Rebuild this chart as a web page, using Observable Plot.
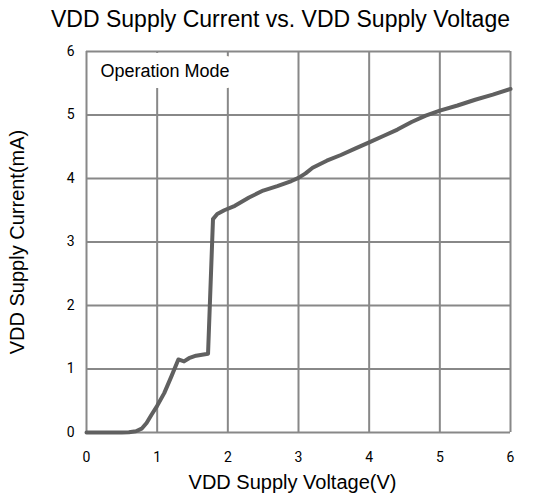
<!DOCTYPE html>
<html>
<head>
<meta charset="utf-8">
<script src="https://cdn.jsdelivr.net/npm/d3@7"></script>
<script src="https://cdn.jsdelivr.net/npm/@observablehq/plot@0.6"></script>
<style>
  body { margin: 0; background: white; overflow: hidden; }
</style>
</head>
<body>
<div id="chart"></div>
<script>
const title = "VDD Supply Current vs. VDD Supply Voltage";
const xLabel = "VDD Supply Voltage(V)";
const yLabel = "VDD Supply Current(mA)";
const annotation = "Operation Mode";
const tickValues = [0, 1, 2, 3, 4, 5, 6];

const voltage = [0, 0.5, 0.6, 0.7, 0.78, 0.85, 0.92, 1.0, 1.1, 1.2, 1.3, 1.38, 1.45, 1.55, 1.72,
  1.79, 1.85, 1.95, 2.1, 2.3, 2.5, 2.7, 2.9, 3.0, 3.1, 3.2, 3.4, 3.6, 3.8, 4.0, 4.2, 4.4, 4.6,
  4.8, 5.0, 5.25, 5.5, 5.75, 6.0];
const current = [0, 0, 0.005, 0.02, 0.06, 0.15, 0.28, 0.42, 0.62, 0.88, 1.15, 1.12, 1.17, 1.21, 1.24,
  3.36, 3.44, 3.50, 3.57, 3.70, 3.81, 3.88, 3.96, 4.01, 4.08, 4.17, 4.28, 4.37, 4.47, 4.57, 4.67, 4.77, 4.89,
  4.99, 5.07, 5.15, 5.24, 5.32, 5.41];

const data = voltage.map((v, i) => ({v, c: current[i]}));
const sans = "'Liberation Sans', Arial, sans-serif";

const chart = Plot.plot({
  width: 539,
  height: 500,
  marginTop: 51,
  marginLeft: 86,
  marginRight: 29,
  marginBottom: 68,
  style: {fontFamily: "Roboto, sans-serif", fontSize: "14px", color: "black", background: "white"},
  x: {domain: [0, 6], ticks: tickValues, tickFormat: d3.format("d"), tickSize: 0, tickPadding: 20, label: null},
  y: {domain: [0, 6], ticks: tickValues, tickFormat: d3.format("d"), tickSize: 0, tickPadding: 12, label: null},
  marks: [
    Plot.ruleX(tickValues, {stroke: "#888", strokeWidth: 2}),
    Plot.ruleY(tickValues, {stroke: "#888", strokeWidth: 2}),
    Plot.text([annotation], {
      frameAnchor: "top-left", dx: 14, dy: 20, textAnchor: "start", lineAnchor: "middle",
      fontSize: 18, fontFamily: sans, fill: "black", stroke: "white", strokeWidth: 22
    }),
    Plot.line(data, {x: "v", y: "c", stroke: "#606060", strokeWidth: 4, strokeLinejoin: "round"}),
    Plot.text([title], {
      frameAnchor: "top", dx: -18, dy: -32, textAnchor: "middle", lineAnchor: "middle",
      fontSize: 23, fontFamily: sans, fill: "black"
    }),
    Plot.text([xLabel], {
      frameAnchor: "bottom", dx: -6, dy: 50, textAnchor: "middle", lineAnchor: "middle",
      fontSize: 20, fontFamily: sans, fill: "black"
    }),
    Plot.text([yLabel], {
      frameAnchor: "left", dx: -69, dy: 0, rotate: -90, textAnchor: "middle", lineAnchor: "middle",
      fontSize: 20, fontFamily: sans, fill: "black"
    })
  ]
});
document.getElementById("chart").append(chart);
</script>
</body>
</html>
